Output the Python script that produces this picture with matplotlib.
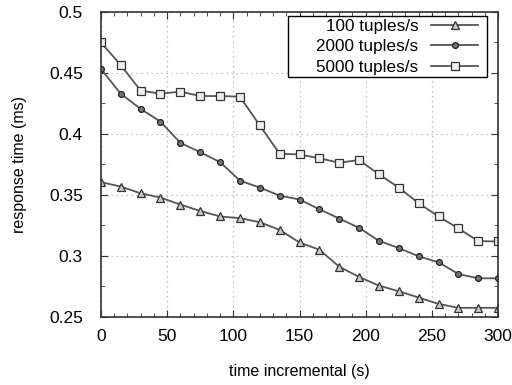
import matplotlib
matplotlib.use('Agg')
import matplotlib.pyplot as plt
from matplotlib.ticker import MultipleLocator, FormatStrFormatter
from matplotlib.patches import Rectangle

plt.rcParams['font.family'] = ['Liberation Sans', 'DejaVu Sans']

# veriler
t = [0, 15, 30, 45, 60, 75, 90, 105, 120, 135, 150, 165, 180, 195, 210, 225, 240, 255, 270, 285, 300]
r100 = [0.3605, 0.3568, 0.3513, 0.3478, 0.3421, 0.3368, 0.3323, 0.3309, 0.3276, 0.3213, 0.3110,
        0.3050, 0.2911, 0.2827, 0.2756, 0.2710, 0.2658, 0.2606, 0.2574, 0.2574, 0.2574]
r2000 = [0.4532, 0.4330, 0.4205, 0.4101, 0.3927, 0.3850, 0.3769, 0.3617, 0.3560, 0.3494, 0.3462,
         0.3382, 0.3306, 0.3230, 0.3123, 0.3064, 0.2996, 0.2947, 0.2851, 0.2816, 0.2816]
r5000 = [0.4750, 0.4565, 0.4355, 0.4330, 0.4346, 0.4311, 0.4310, 0.4306, 0.4069, 0.3837, 0.3832,
         0.3800, 0.3764, 0.3786, 0.3668, 0.3560, 0.3431, 0.3323, 0.3225, 0.3121, 0.3118]
labels = ['100 tuples/s', '2000 tuples/s', '5000 tuples/s']

fig = plt.figure(figsize=(5.12, 3.85), dpi=100)
ax = fig.add_axes([0.197, 0.177, 0.776, 0.792])

lc = '#555555'
ax.plot(t, r100, color=lc, lw=1.3, marker='^', ms=5.8, mfc='#c8c8c8', mec='#333333', mew=0.9, label=labels[0])
ax.plot(t, r2000, color=lc, lw=1.3, marker='o', ms=4.2, mfc='#777777', mec='#222222', mew=0.9, label=labels[1])
ax.plot(t, r5000, color=lc, lw=1.3, marker='s', ms=5.5, mfc='#eeeeee', mec='#333333', mew=0.9, label=labels[2])

ax.set_xlim(0, 300)
ax.set_ylim(0.25, 0.5)
ax.xaxis.set_major_locator(MultipleLocator(50))
ax.xaxis.set_minor_locator(MultipleLocator(10))
ax.yaxis.set_major_locator(MultipleLocator(0.05))
ax.yaxis.set_minor_locator(MultipleLocator(0.025))
ax.yaxis.set_major_formatter(FormatStrFormatter('%g'))
ax.tick_params(which='both', direction='in', top=True, right=True, labelsize=12.5, color='#333333')
ax.tick_params(axis='x', which='major', length=5, pad=9)
ax.tick_params(axis='y', which='major', length=5, pad=13)
ax.tick_params(which='minor', length=3)
ax.grid(True, which='major', linestyle=(0, (1, 3)), color='#aaaaaa', lw=0.9)
for s in ax.spines.values():
    s.set_color('#333333')
    s.set_linewidth(1.2)

ax.set_xlabel('time incremental (s)', fontsize=11.5, labelpad=14)
ax.set_ylabel('response time (ms)', fontsize=11.5, labelpad=16)

# legend kutusu (elle çizilen çerçeve)
ax.add_patch(Rectangle((0.471, 0.788), 0.501, 0.199, transform=ax.transAxes,
                       facecolor='white', edgecolor='black', lw=1.0, zorder=4.5))
leg = ax.legend(loc='upper right', bbox_to_anchor=(0.95, 0.977), markerfirst=False,
                fontsize=12.3, frameon=False, borderaxespad=0, borderpad=0,
                handlelength=2.75, labelspacing=0.32, handletextpad=0.75)

fig.savefig('out.png', dpi=100)
